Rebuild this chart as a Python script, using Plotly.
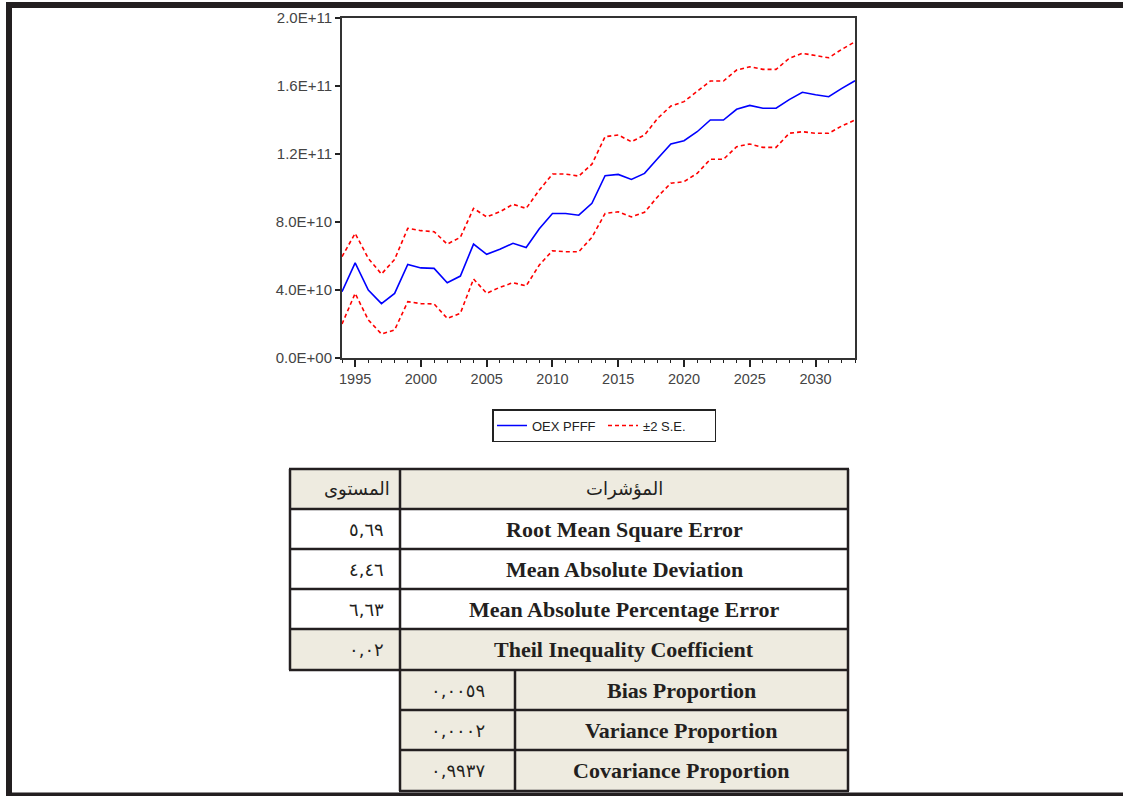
import plotly.graph_objects as go

W, H = 1123, 796

years = list(range(1994, 2034))

forecast = [3.9e10, 5.6e10, 4.0e10, 3.2e10, 3.8e10, 5.5e10, 5.3e10, 5.27e10, 4.43e10, 4.82e10,
            6.7e10, 6.1e10, 6.4e10, 6.75e10, 6.5e10, 7.6e10, 8.5e10, 8.5e10, 8.4e10, 9.1e10,
            1.072e11, 1.08e11, 1.05e11, 1.086e11, 1.174e11, 1.259e11, 1.278e11, 1.331e11, 1.40e11, 1.40e11,
            1.463e11, 1.486e11, 1.469e11, 1.469e11, 1.52e11, 1.563e11, 1.549e11, 1.537e11, 1.586e11, 1.631e11]

upper = [5.96e10, 7.33e10, 5.86e10, 4.94e10, 5.8e10, 7.63e10, 7.49e10, 7.43e10, 6.7e10, 7.1e10,
         8.8e10, 8.3e10, 8.6e10, 9.04e10, 8.8e10, 9.88e10, 1.082e11, 1.082e11, 1.07e11, 1.14e11,
         1.302e11, 1.312e11, 1.272e11, 1.312e11, 1.41e11, 1.482e11, 1.508e11, 1.566e11, 1.629e11, 1.629e11,
         1.694e11, 1.713e11, 1.698e11, 1.698e11, 1.763e11, 1.792e11, 1.778e11, 1.766e11, 1.816e11, 1.86e11]

lower = [2.0e10, 3.8e10, 2.24e10, 1.41e10, 1.65e10, 3.31e10, 3.2e10, 3.18e10, 2.33e10, 2.63e10,
         4.65e10, 3.8e10, 4.16e10, 4.43e10, 4.24e10, 5.47e10, 6.31e10, 6.25e10, 6.25e10, 7.1e10,
         8.5e10, 8.6e10, 8.3e10, 8.57e10, 9.49e10, 1.028e11, 1.037e11, 1.086e11, 1.169e11, 1.169e11,
         1.243e11, 1.259e11, 1.239e11, 1.239e11, 1.322e11, 1.331e11, 1.322e11, 1.322e11, 1.365e11, 1.40e11]

y_ticks = [0, 4e10, 8e10, 1.2e11, 1.6e11, 2.0e11]
y_labels = ["0.0E+00", "4.0E+10", "8.0E+10", "1.2E+11", "1.6E+11", "2.0E+11"]

header = ["المؤشرات", "المستوى"]
metrics = ["Root Mean Square Error", "Mean Absolute Deviation",
           "Mean Absolute Percentage Error", "Theil Inequality Coefficient"]
metric_values = [5.69, 4.46, 6.63, 0.02]
proportions = ["Bias Proportion", "Variance Proportion", "Covariance Proportion"]
proportion_values = [0.0059, 0.0002, 0.9937]

_AR = str.maketrans("0123456789.", "٠١٢٣٤٥٦٧٨٩,")


def ar(v, nd):
    return f"{v:.{nd}f}".translate(_AR)


def px(x):
    return x / W


def py(y):
    return 1 - y / H


fig = go.Figure()

fig.add_trace(go.Scatter(
    x=years, y=forecast, mode="lines", name="OEX PFFF",
    line=dict(color="#0000ff", width=1.6),
))
fig.add_trace(go.Scatter(
    x=years, y=upper, mode="lines", name="±2 S.E.", legendgroup="se",
    line=dict(color="#ff0000", width=1.6, dash="4px,3px"),
))
fig.add_trace(go.Scatter(
    x=years, y=lower, mode="lines", name="±2 S.E.", legendgroup="se", showlegend=False,
    line=dict(color="#ff0000", width=1.6, dash="4px,3px"),
))

x_font = dict(family="Liberation Sans, Arial", size=14.5, color="#444")
y_font = dict(family="Liberation Sans, Arial", size=15, color="#444")
ink = "#231f20"
beige = "#eeebe0"

shapes = []
annotations = []

# page border
shapes.append(dict(type="rect", xref="paper", yref="paper", x0=px(6), x1=px(12), y0=py(796), y1=py(2),
                   fillcolor=ink, line=dict(width=0), layer="above"))
shapes.append(dict(type="rect", xref="paper", yref="paper", x0=px(6), x1=px(1123), y0=py(8), y1=py(2),
                   fillcolor=ink, line=dict(width=0), layer="above"))
shapes.append(dict(type="rect", xref="paper", yref="paper", x0=px(6), x1=px(1123), y0=py(796), y1=py(792.5),
                   fillcolor=ink, line=dict(width=0), layer="above"))

# table geometry
L, S1, S2, R = 290, 400, 515, 848
rows = [469, 509, 549, 589, 629, 670, 710, 750, 791]

fills = [beige, "white", "white", "white", beige]
for i, c in enumerate(fills):
    shapes.append(dict(type="rect", xref="paper", yref="paper", x0=px(L), x1=px(R),
                       y0=py(rows[i + 1]), y1=py(rows[i]), fillcolor=c, line=dict(width=0)))
for i in range(5, 8):
    shapes.append(dict(type="rect", xref="paper", yref="paper", x0=px(S1), x1=px(R),
                       y0=py(rows[i + 1]), y1=py(rows[i]), fillcolor=beige, line=dict(width=0)))

lw = 2.5
for i in range(0, 6):
    shapes.append(dict(type="line", xref="paper", yref="paper", x0=px(L - 1), x1=px(R + 1),
                       y0=py(rows[i]), y1=py(rows[i]), line=dict(color=ink, width=lw)))
for i in range(6, 9):
    shapes.append(dict(type="line", xref="paper", yref="paper", x0=px(S1 - 1), x1=px(R + 1),
                       y0=py(rows[i]), y1=py(rows[i]), line=dict(color=ink, width=lw)))
shapes.append(dict(type="line", xref="paper", yref="paper", x0=px(L), x1=px(L),
                   y0=py(rows[5]), y1=py(rows[0]), line=dict(color=ink, width=lw)))
shapes.append(dict(type="line", xref="paper", yref="paper", x0=px(S1), x1=px(S1),
                   y0=py(rows[8]), y1=py(rows[0]), line=dict(color=ink, width=lw)))
shapes.append(dict(type="line", xref="paper", yref="paper", x0=px(S2), x1=px(S2),
                   y0=py(rows[8]), y1=py(rows[5]), line=dict(color=ink, width=lw)))
shapes.append(dict(type="line", xref="paper", yref="paper", x0=px(R), x1=px(R),
                   y0=py(rows[8]), y1=py(rows[0]), line=dict(color=ink, width=lw)))

serif_b = dict(family="Liberation Serif, Times New Roman", size=22, color="#231f20")
arabic_h = dict(family="DejaVu Sans", size=18, color="#231f20")
arabic = dict(family="DejaVu Sans", size=18, color="#231f20")


def cy(i):
    return py((rows[i] + rows[i + 1]) / 2)


annotations.append(dict(xref="paper", yref="paper", x=px((S1 + R) / 2), y=cy(0), text=header[0],
                        showarrow=False, font=arabic_h, xanchor="center", yanchor="middle"))
annotations.append(dict(xref="paper", yref="paper", x=px(S1 - 8), y=cy(0), text=header[1],
                        showarrow=False, font=arabic_h, xanchor="right", yanchor="middle"))
for i, (m, v) in enumerate(zip(metrics, metric_values)):
    annotations.append(dict(xref="paper", yref="paper", x=px((S1 + R) / 2), y=cy(i + 1),
                            text=f"<b>{m}</b>", showarrow=False, font=serif_b,
                            xanchor="center", yanchor="middle"))
    annotations.append(dict(xref="paper", yref="paper", x=px(S1 - 14), y=cy(i + 1),
                            text=ar(v, 2), showarrow=False, font=arabic,
                            xanchor="right", yanchor="middle"))
for i, (m, v) in enumerate(zip(proportions, proportion_values)):
    annotations.append(dict(xref="paper", yref="paper", x=px((S2 + R) / 2), y=cy(i + 5),
                            text=f"<b>{m}</b>", showarrow=False, font=serif_b,
                            xanchor="center", yanchor="middle"))
    annotations.append(dict(xref="paper", yref="paper", x=px((S1 + S2) / 2), y=cy(i + 5),
                            text=ar(v, 4), showarrow=False, font=arabic,
                            xanchor="center", yanchor="middle"))

fig.update_layout(
    width=W, height=H,
    margin=dict(l=0, r=0, t=0, b=0, autoexpand=False),
    paper_bgcolor="white",
    plot_bgcolor="white",
    xaxis=dict(
        domain=[px(342), px(855)],
        range=[1994, 2033],
        tick0=1995, dtick=5,
        ticks="outside", ticklen=7, tickwidth=1.5, tickcolor="#222",
        minor=dict(dtick=1, ticks="outside", ticklen=3, tickwidth=1.2, tickcolor="#222"),
        showline=True, linecolor="#333", linewidth=2, mirror=True,
        showgrid=False, zeroline=False, automargin=False,
        tickfont=x_font,
    ),
    yaxis=dict(
        domain=[py(358), py(18)],
        range=[0, 2e11],
        tickvals=y_ticks, ticktext=y_labels,
        ticks="outside", ticklen=5, tickwidth=1.5, tickcolor="#222",
        showline=True, linecolor="#333", linewidth=2, mirror=True,
        showgrid=False, zeroline=False, automargin=False,
        tickfont=y_font,
    ),
    showlegend=True,
    legend=dict(
        orientation="h",
        x=px(492), xanchor="left",
        y=py(409), yanchor="top",
        bordercolor="#222", borderwidth=1.5, bgcolor="white",
        font=dict(family="Liberation Sans, Arial", size=13, color="#222"),
        itemwidth=30,
        entrywidth=66, entrywidthmode="pixels",
    ),
    shapes=shapes,
    annotations=annotations,
)

page_fix = (
    "document.documentElement.style.margin='0';"
    "document.documentElement.style.overflow='hidden';"
    "document.body.style.margin='0';"
    "document.body.style.overflow='hidden';"
)

fig.write_html("out.html", config={"displayModeBar": False}, post_script=page_fix)
